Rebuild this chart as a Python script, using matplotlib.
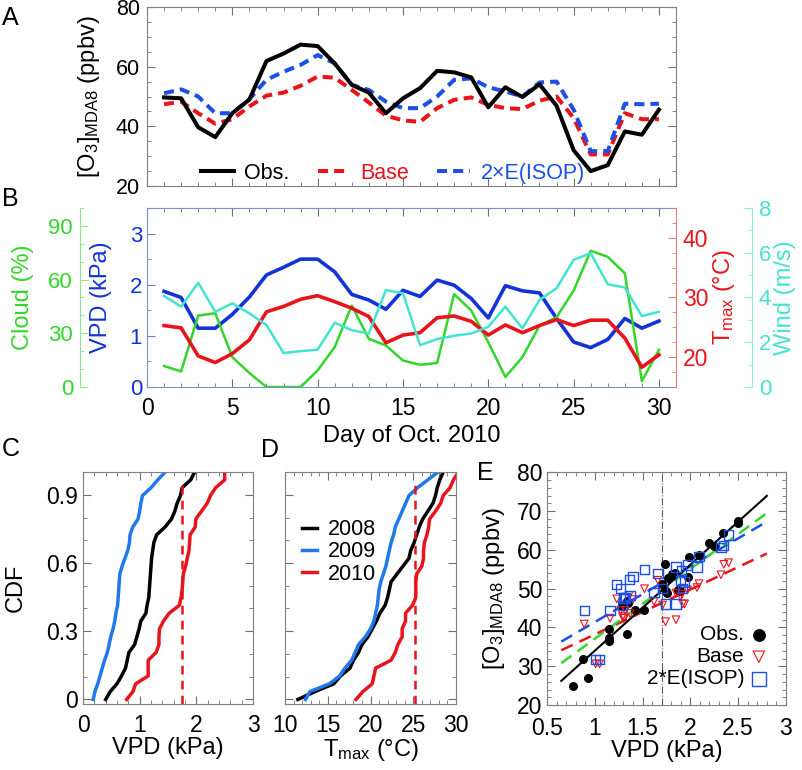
import numpy as np
import matplotlib
matplotlib.use('Agg')
import matplotlib.pyplot as plt
from matplotlib.ticker import MultipleLocator, FormatStrFormatter
from matplotlib.lines import Line2D

plt.rcParams['font.family'] = ['Liberation Sans', 'DejaVu Sans']
plt.rcParams['mathtext.default'] = 'regular'
plt.rcParams['font.size'] = 15
plt.rcParams['xtick.direction'] = 'in'
plt.rcParams['ytick.direction'] = 'in'
plt.rcParams['xtick.major.size'] = 6
plt.rcParams['ytick.major.size'] = 6
plt.rcParams['xtick.minor.size'] = 3
plt.rcParams['ytick.minor.size'] = 3

# ---- data ----
days = np.arange(1, 31)

# Panel A: daily MDA8 ozone (ppbv)
o3_obs = [49.7, 49.4, 39.7, 36.4, 44.4, 49.0, 61.9, 64.4, 67.4, 66.9,
          61.1, 53.9, 51.3, 44.4, 49.4, 52.8, 58.6, 58.1, 56.4, 46.4,
          53.1, 49.8, 54.1, 46.9, 32.0, 25.0, 27.0, 38.3, 37.2, 45.6]
o3_base = [47.4, 48.3, 44.4, 40.9, 42.4, 46.7, 50.3, 51.3, 53.6, 56.7,
           56.3, 52.2, 48.0, 43.6, 42.0, 41.5, 46.1, 48.9, 49.7, 47.2,
           46.1, 45.8, 48.6, 50.0, 42.8, 30.6, 30.6, 44.4, 42.4, 42.4]
o3_isop = [51.1, 52.4, 50.0, 44.4, 44.4, 49.1, 55.6, 58.3, 60.6, 63.9,
           61.1, 53.9, 52.2, 48.3, 46.1, 46.1, 50.0, 55.6, 56.1, 53.1,
           51.7, 50.0, 54.7, 55.0, 45.6, 31.7, 31.7, 47.6, 47.4, 47.6]

# Panel B: meteorology, Oct 2010
vpd = [1.87, 1.75, 1.15, 1.15, 1.42, 1.76, 2.19, 2.34, 2.50, 2.50,
       2.25, 1.81, 1.70, 1.52, 1.89, 1.77, 2.09, 1.99, 1.73, 1.35,
       1.98, 1.88, 1.84, 1.34, 0.88, 0.77, 0.93, 1.34, 1.15, 1.29]
tmax = [25.3, 24.9, 20.2, 19.1, 20.6, 22.9, 27.6, 28.5, 29.7, 30.3,
        29.3, 28.2, 26.8, 22.4, 23.7, 24.1, 26.6, 26.9, 26.0, 23.7,
        25.4, 24.1, 25.3, 26.3, 25.3, 26.2, 26.2, 23.2, 18.3, 20.4]
cloud = [11.7, 8.7, 39.9, 41.2, 16.7, 7.8, 0.0, 0.0, 0.0, 9.3,
         22.3, 45.5, 26.9, 23.2, 14.8, 12.4, 13.4, 51.9, 42.7, 25.0,
         5.6, 16.7, 34.3, 39.0, 53.8, 76.1, 72.7, 63.5, 3.3, 20.8]
wind = [4.07, 3.59, 4.66, 3.36, 3.74, 3.29, 2.77, 1.52, 1.60, 1.67,
        2.87, 2.54, 2.39, 4.33, 4.19, 1.87, 2.14, 2.29, 2.39, 2.69,
        3.59, 2.62, 3.89, 4.41, 5.68, 5.98, 4.59, 4.45, 3.17, 3.36]

# Panels C/D: sorted October values for other years
vpd_2008 = [0.40, 0.48, 0.60, 0.68, 0.75, 0.78, 0.81, 0.91, 0.95, 0.99,
            1.02, 1.11, 1.13, 1.16, 1.17, 1.18, 1.19, 1.20, 1.21, 1.23,
            1.25, 1.30, 1.45, 1.56, 1.62, 1.66, 1.72, 1.75, 1.90, 1.97]
vpd_2009 = [0.18, 0.21, 0.26, 0.30, 0.34, 0.38, 0.43, 0.46, 0.49, 0.53,
            0.56, 0.58, 0.61, 0.62, 0.63, 0.64, 0.65, 0.69, 0.74, 0.79,
            0.82, 0.83, 0.88, 0.97, 1.00, 1.02, 1.05, 1.20, 1.32, 1.45]
tmax_2008 = [11.5, 13.5, 15.7, 16.5, 17.6, 18.0, 18.6, 19.0, 19.7, 20.2,
             20.7, 21.1, 21.7, 22.0, 22.2, 22.4, 23.1, 23.8, 24.5, 24.7,
             25.1, 25.4, 25.7, 26.1, 26.7, 27.3, 27.6, 27.8, 28.1, 28.5]
tmax_2009 = [12.4, 12.9, 15.2, 16.4, 17.0, 17.8, 18.2, 18.6, 19.4, 20.0,
             20.4, 20.6, 20.8, 20.9, 21.0, 21.2, 21.5, 21.8, 22.0, 22.2,
             22.4, 22.7, 22.9, 23.3, 23.7, 24.1, 24.5, 25.5, 26.7, 27.9]
vpd_mean_2010 = 1.74
tmax_mean_2010 = 25.2

# Panel E: model VPD per day, threshold and regression lines (slope, intercept)
vpd_model = [1.23, 1.36, 1.27, 0.89, 1.16, 1.62, 2.07, 2.09, 2.32, 2.40,
             2.35, 1.66, 1.90, 1.37, 1.85, 1.74, 1.92, 1.85, 1.97, 1.40,
             1.94, 1.71, 1.91, 1.52, 1.29, 1.01, 1.05, 1.32, 1.31, 1.30]
vpd_threshold = 1.70
fit_range = [0.65, 2.8]
fit_obs = (22.2, 11.8)
fit_base = (11.6, 26.6)
fit_isop = (14.4, 27.0)
fit_green = (18.0, 19.1)

# ---- colours ----
red = '#e8141c'
blue_a = '#1c4fe6'
blue_vpd = '#1233d6'
blue_09 = '#1f78ec'
green = '#33d62a'
cyan = '#44e3cf'
dash = (0, (2.5, 1.5))
grey = '#707070'

fig = plt.figure(figsize=(8.02, 7.70), dpi=100)

# ---- Panel A ----
axA = fig.add_axes([0.1833, 0.7584, 0.6596, 0.2325])
axA.plot(days, o3_base, color=red, lw=2.9, ls=dash)
axA.plot(days, o3_isop, color=blue_a, lw=2.9, ls=dash)
axA.plot(days, o3_obs, color='k', lw=2.9)
axA.set_xlim(0, 31)
axA.set_ylim(20, 80)
axA.xaxis.set_major_locator(MultipleLocator(5))
axA.xaxis.set_minor_locator(MultipleLocator(1))
axA.yaxis.set_major_locator(MultipleLocator(20))
axA.yaxis.set_minor_locator(MultipleLocator(5))
axA.tick_params(which='both', top=True, right=True, labelbottom=False,
                color=grey, labelsize=15.5, pad=5)
for s in axA.spines.values():
    s.set_color('#808080')
axA.set_ylabel(r'[O$_3$]$_{MDA8}$ (ppbv)', fontsize=17)
axA.yaxis.set_label_coords(-0.085, 0.5)
hA = [Line2D([], [], color='k', lw=2.9),
      Line2D([], [], color=red, lw=2.9, ls=dash),
      Line2D([], [], color=blue_a, lw=2.9, ls=dash)]
axA.legend(hA, ['Obs.', 'Base', '2×E(ISOP)'], loc='lower center',
           bbox_to_anchor=(0.465, -0.095), ncol=3, frameon=False,
           fontsize=15.5, handlelength=1.5, columnspacing=1.3,
           handletextpad=0.5, labelcolor=['k', red, blue_a])

# ---- Panel B ----
axB = fig.add_axes([0.1833, 0.4974, 0.6596, 0.2325])
ax_cl = axB.twinx()
ax_t = axB.twinx()
ax_w = axB.twinx()

axB.plot(days, vpd, color=blue_vpd, lw=2.6, zorder=3)
ax_t.plot(days, tmax, color=red, lw=2.6)
ax_cl.plot(days, cloud, color=green, lw=1.8)
ax_w.plot(days, wind, color=cyan, lw=1.8)

axB.set_xlim(0, 31)
axB.set_ylim(0, 3.5)
ax_cl.set_ylim(0, 100)
ax_t.set_ylim(15, 45)
ax_w.set_ylim(0, 8)

axB.xaxis.set_major_locator(MultipleLocator(5))
axB.xaxis.set_minor_locator(MultipleLocator(1))
axB.yaxis.set_major_locator(MultipleLocator(1))
axB.yaxis.set_minor_locator(MultipleLocator(0.5))
axB.tick_params(axis='x', which='both', top=True, color=grey, labelsize=16.5, pad=7)
axB.tick_params(axis='y', which='both', right=False, color='#6a7fc8',
                labelcolor=blue_vpd, labelsize=16)
for k in ['left', 'top', 'bottom']:
    axB.spines[k].set_color('#7f8fc8')
axB.spines['right'].set_visible(False)
axB.set_xlabel('Day of Oct. 2010', fontsize=17, labelpad=4)
axB.set_ylabel('VPD (kPa)', color=blue_vpd, fontsize=17)
axB.yaxis.set_label_coords(-0.066, 0.5)

# cloud axis, offset to the left (outward is in points)
for k in ['right', 'top', 'bottom']:
    ax_cl.spines[k].set_visible(False)
ax_cl.spines['left'].set_visible(True)
ax_cl.spines['left'].set_position(('outward', 48.2))
ax_cl.spines['left'].set_color('#8fe68f')
ax_cl.yaxis.set_ticks_position('left')
ax_cl.yaxis.set_label_position('left')
ax_cl.yaxis.set_major_locator(MultipleLocator(30))
ax_cl.yaxis.set_minor_locator(MultipleLocator(10))
ax_cl.tick_params(axis='y', which='both', color='#8fe68f', labelcolor=green,
                  labelsize=16, pad=5)
ax_cl.set_ylabel('Cloud (%)', color=green, fontsize=17)
ax_cl.yaxis.set_label_coords(-0.213, 0.5)

# Tmax axis on the right
for k in ['left', 'top', 'bottom']:
    ax_t.spines[k].set_visible(False)
ax_t.spines['right'].set_color('#e07a7a')
ax_t.yaxis.set_major_locator(MultipleLocator(10))
ax_t.yaxis.set_minor_locator(MultipleLocator(2.5))
ax_t.tick_params(axis='y', which='both', color='#e07a7a', labelcolor=red,
                 labelsize=16.5, pad=5)
ax_t.set_ylabel('T$_{max}$ (°C)', color=red, fontsize=17)
ax_t.yaxis.set_label_coords(1.066, 0.5)

# wind axis, offset to the right
for k in ['left', 'top', 'bottom']:
    ax_w.spines[k].set_visible(False)
ax_w.spines['right'].set_position(('outward', 54.7))
ax_w.spines['right'].set_color('#8deee0')
ax_w.yaxis.set_major_locator(MultipleLocator(2))
ax_w.yaxis.set_minor_locator(MultipleLocator(1))
ax_w.tick_params(axis='y', which='both', color='#8deee0', labelcolor=cyan,
                 labelsize=16, pad=5)
ax_w.set_ylabel('Wind (m/s)', color=cyan, fontsize=17)
ax_w.yaxis.set_label_coords(1.186, 0.5)

# ---- Panel C ----
axC = fig.add_axes([0.1035, 0.0857, 0.2120, 0.3013])
cdf = np.linspace(0, 1, len(vpd))
axC.plot(np.sort(vpd_2008), cdf, color='k', lw=2.5)
axC.plot(np.sort(vpd_2009), cdf, color=blue_09, lw=2.5)
axC.plot(np.sort(vpd), cdf, color=red, lw=2.5)
axC.axvline(vpd_mean_2010, ymax=0.97, color=red, lw=1.8, ls=(0, (3.5, 2.5)))
axC.set_xlim(0, 3)
axC.set_ylim(-0.02, 1.0)
axC.xaxis.set_major_locator(MultipleLocator(1))
axC.xaxis.set_minor_locator(MultipleLocator(0.2))
axC.yaxis.set_major_locator(MultipleLocator(0.3))
axC.yaxis.set_minor_locator(MultipleLocator(0.1))
axC.tick_params(which='both', top=True, right=True, color=grey, labelsize=16.5)
axC.tick_params(axis='x', pad=7.5)
axC.xaxis.set_major_formatter(FormatStrFormatter('%g'))
axC.yaxis.set_major_formatter(FormatStrFormatter('%g'))
for s in axC.spines.values():
    s.set_color('#808080')
axC.set_xlabel('VPD (kPa)', fontsize=17, labelpad=0)
axC.set_ylabel('CDF', fontsize=17)
axC.yaxis.set_label_coords(-0.33, 0.5)

# ---- Panel D ----
axD = fig.add_axes([0.3554, 0.0857, 0.2132, 0.3013])
axD.plot(np.sort(tmax_2008), cdf, color='k', lw=2.5, label='2008')
axD.plot(np.sort(tmax_2009), cdf, color=blue_09, lw=2.5, label='2009')
axD.plot(np.sort(tmax), cdf, color=red, lw=2.5, label='2010')
axD.axvline(tmax_mean_2010, ymax=0.97, color=red, lw=1.8, ls=(0, (3.5, 2.5)))
axD.set_xlim(10, 30)
axD.set_ylim(-0.02, 1.0)
axD.xaxis.set_major_locator(MultipleLocator(5))
axD.xaxis.set_minor_locator(MultipleLocator(1))
axD.yaxis.set_major_locator(MultipleLocator(0.3))
axD.yaxis.set_minor_locator(MultipleLocator(0.1))
axD.tick_params(which='both', top=True, right=True, labelleft=False,
                color=grey, labelsize=16.5)
axD.tick_params(axis='x', pad=7.5)
for s in axD.spines.values():
    s.set_color('#808080')
axD.set_xlabel('T$_{max}$ (°C)', fontsize=17, labelpad=0)
axD.legend(loc='upper left', bbox_to_anchor=(0.0, 0.87), frameon=False,
           fontsize=15.5, handlelength=0.7, handletextpad=0.5,
           labelspacing=0.05, borderaxespad=0.4)

# ---- Panel E ----
axE = fig.add_axes([0.6820, 0.0844, 0.2980, 0.3020])
xf = np.array(fit_range)
axE.axvline(vpd_threshold, color='#606060', lw=0.8, ls='-.')
axE.plot(xf, fit_base[0] * xf + fit_base[1], color=red, lw=1.8, ls=(0, (5, 3)))
axE.plot(xf, fit_isop[0] * xf + fit_isop[1], color=blue_a, lw=1.8, ls=(0, (5, 3)))
axE.plot(xf, fit_green[0] * xf + fit_green[1], color=green, lw=1.8, ls=(0, (5, 3)))
axE.plot(xf, fit_obs[0] * xf + fit_obs[1], color='k', lw=1.5)
axE.scatter(vpd, o3_obs, s=30, color='k', label='Obs.', zorder=4)
axE.scatter(vpd_model, o3_base, s=30, marker='v', facecolors='none',
            edgecolors=red, lw=0.8, label='Base', zorder=4)
axE.scatter(vpd_model, o3_isop, s=45, marker='s', facecolors='none',
            edgecolors=blue_a, lw=1.0, label='2*E(ISOP)', zorder=4)
axE.set_xlim(0.5, 3)
axE.set_ylim(20, 80)
axE.xaxis.set_major_locator(MultipleLocator(0.5))
axE.xaxis.set_minor_locator(MultipleLocator(0.1))
axE.yaxis.set_major_locator(MultipleLocator(10))
axE.yaxis.set_minor_locator(MultipleLocator(2))
axE.xaxis.set_major_formatter(FormatStrFormatter('%g'))
axE.tick_params(which='both', top=True, right=True, color=grey, labelsize=16.5)
axE.tick_params(axis='x', pad=8.5)
for s in axE.spines.values():
    s.set_color('#808080')
axE.set_xlabel('VPD (kPa)', fontsize=17, labelpad=0)
axE.set_ylabel(r'[O$_3$]$_{MDA8}$ (ppbv)', fontsize=17)
axE.yaxis.set_label_coords(-0.167, 0.5)
axE.legend(loc='lower right', markerfirst=False, frameon=False, fontsize=15,
           markerscale=1.5, handletextpad=0.2, labelspacing=0.15,
           borderaxespad=0.4, handlelength=1.0)

# ---- panel letters ----
for lab, x, y in [('A', 0.002, 0.977), ('B', 0.002, 0.742), ('C', 0.002, 0.417),
                  ('D', 0.326, 0.416), ('E', 0.595, 0.386)]:
    fig.text(x, y, lab, fontsize=18, ha='left', va='center')

fig.savefig('out.png', dpi=100)
